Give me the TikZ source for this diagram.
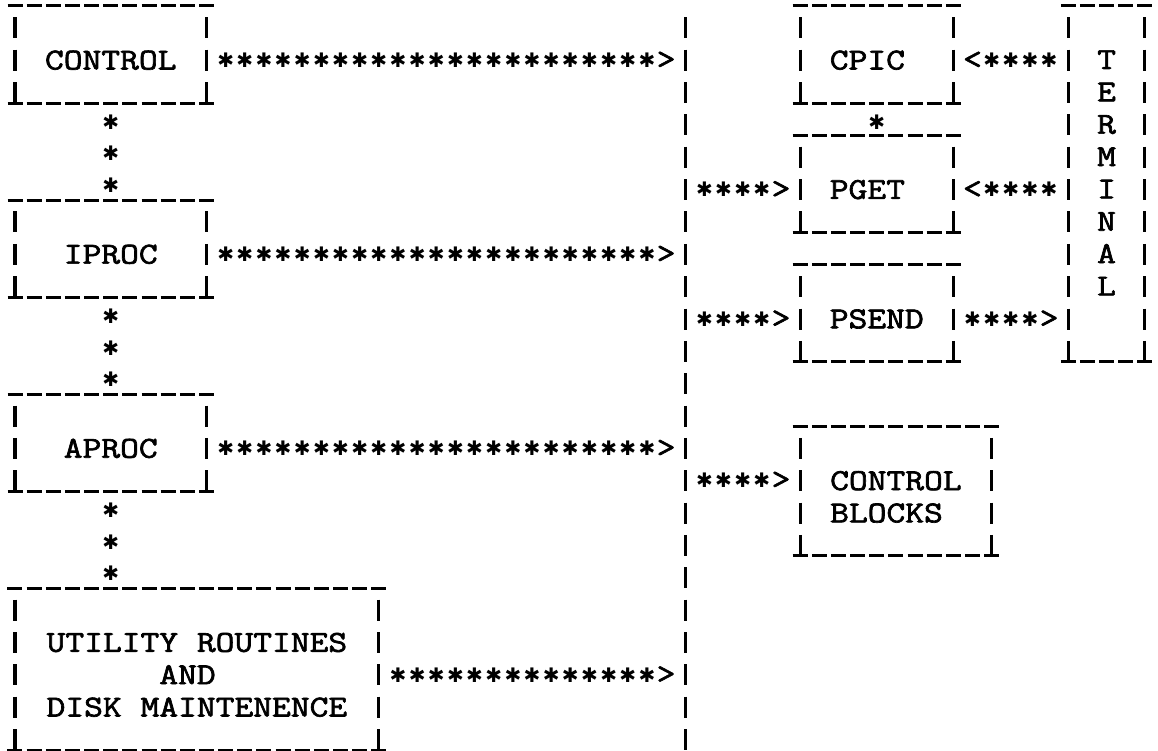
\documentclass[tikz,border=0pt]{standalone}
\usepackage{fontspec}
\newfontfamily\twfont{Latin Modern Mono}[FakeStretch=1.2,FakeBold=2.2]
\newfontfamily\symfont{DejaVu Sans}
\usetikzlibrary{decorations.markings}
\newcommand\staric{{\symfont\fontsize{20}{20}\selectfont ✱}}
\newcommand\myframe[1]{%
  \draw[hdash] ([xshift=-7.5pt,yshift=11.35pt]#1.north west) -- ([xshift=7.5pt,yshift=11.35pt]#1.north east);
  \draw[hdash] ([xshift=-7.5pt]#1.south west) -- ([xshift=7.5pt]#1.south east);
  \draw[vdash] (#1.north west) -- (#1.south west);
  \draw[vdash] (#1.north east) -- (#1.south east);}
\begin{document}
\begin{tikzpicture}[x=1pt,y=-1pt,
  tw/.style={font=\twfont\fontsize{30.4}{32.35}\selectfont},
  tbox/.style={tw, rectangle, inner sep=0pt, outer sep=0pt, align=center},
  hdash/.style={line width=3pt, dash pattern=on 15pt off 4.15pt},
  vdash/.style={line width=3.2pt, dash pattern=on 21pt off 11.35pt},
  hstars/.style={decoration={markings,
      mark=between positions 19.15pt and -30pt step 19.15pt with {\node[inner sep=0pt]{\staric};},
      mark=at position -19.15pt with {\node[tw, inner sep=0pt]{#1};}}, decorate},
  vstars/.style={decoration={markings,
      mark=between positions 19pt and 1 step 31.6pt with {\node[inner sep=0pt]{\staric};}}, decorate}]
\useasboundingbox (0,0) rectangle (1158,751);
% boxes
\node[tbox, minimum width=191.5pt, minimum height=85.7pt] (control) at (110.75,60.2) {CONTROL};
\node[tbox, minimum width=191.5pt, minimum height=85.7pt] (iproc) at (110.75,254.3) {IPROC};
\node[tbox, minimum width=191.5pt, minimum height=85.7pt] (aproc) at (110.75,448.4) {APROC};
\node[tbox, minimum width=363.85pt, minimum height=150.4pt] (util) at (196.9,674.85) {UTILITY ROUTINES\\AND\phantom{X}\\DISK MAINTENENCE};
\node[tbox, minimum width=153.2pt, minimum height=85.7pt] (cpic) at (876.75,60.2) {CPIC\phantom{X}};
\node[tbox, minimum width=153.2pt, minimum height=85.7pt] (pget) at (876.75,189.6) {PGET\phantom{X}};
\node[tbox, minimum width=153.2pt, minimum height=85.7pt] (psend) at (876.75,319.0) {PSEND};
\node[tbox, align=left, minimum width=191.5pt, minimum height=118.05pt] (cb) at (895.9,496.9) {CONTROL\\BLOCKS};
\node[tbox, minimum width=76.6pt, minimum height=344.5pt] (term) at (1106.55,189.6) {};
\node[tbox] (termtext) at (1106.55,172.9) {T\\E\\R\\M\\I\\N\\A\\L};
\foreach \b in {control,iproc,aproc,util,cpic,pget,psend,cb,term}{\myframe{\b}}
% bus
\coordinate (bustop) at (685.25,17.35);
\coordinate (busbot) at (685.25,751);
\draw[vdash] (bustop) -- (busbot);
% vertical star links
\path[vstars] (control.south) -- (iproc.north);
\path[vstars] (iproc.south) -- (aproc.north);
\path[vstars] (aproc.south) -- (util.north -| aproc.south);
\path[vstars] (cpic.south) -- (pget.north);
% horizontal star links
\path[hstars={>}] (control.east) -- (control.east -| bustop);
\path[hstars={>}] (iproc.east) -- (iproc.east -| bustop);
\path[hstars={>}] (aproc.east) -- (aproc.east -| bustop);
\path[hstars={>}] (util.east) -- (util.east -| bustop);
\path[hstars={>}] (bustop |- pget.west) -- (pget.west);
\path[hstars={>}] (bustop |- psend.west) -- (psend.west);
\path[hstars={>}] (bustop |- cb.west) ++(0,-16.65) -- ([yshift=16.65pt]cb.west);
\path[hstars={<}] (term.west |- cpic.east) -- (cpic.east);
\path[hstars={<}] (term.west |- pget.east) -- (pget.east);
\path[hstars={>}] (psend.east) -- (psend.east -| term.west);
\end{tikzpicture}
\end{document}
